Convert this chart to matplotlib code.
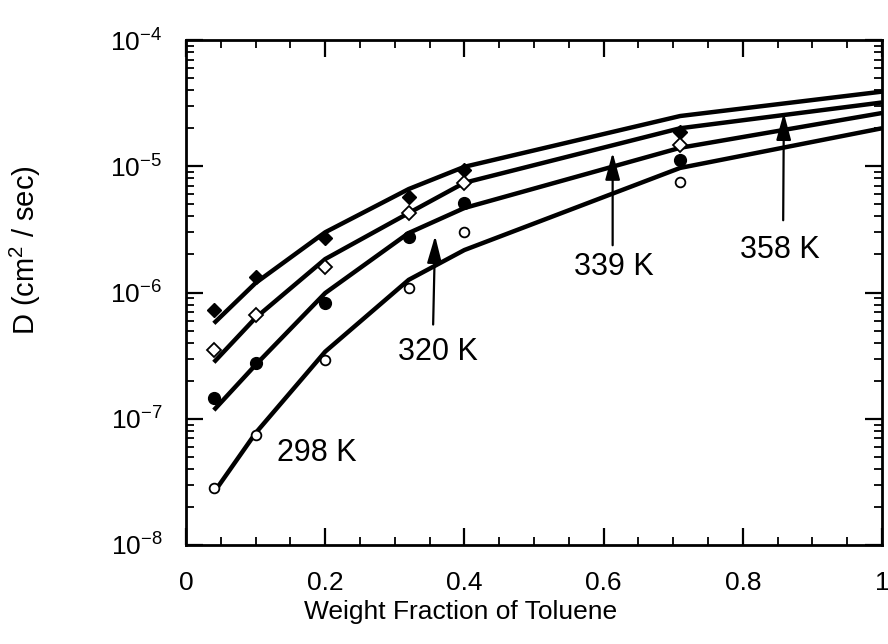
import numpy as np
import matplotlib
matplotlib.use('Agg')
import matplotlib.pyplot as plt
from matplotlib.ticker import MultipleLocator, FuncFormatter, LogLocator

plt.rcParams['font.family'] = ['Liberation Sans', 'DejaVu Sans']
plt.rcParams['mathtext.fontset'] = 'custom'
plt.rcParams['mathtext.rm'] = 'Liberation Sans'
plt.rcParams['mathtext.it'] = 'Liberation Sans:italic'
plt.rcParams['mathtext.bf'] = 'Liberation Sans:bold'

# Measured diffusion coefficients (cm^2/sec) vs weight fraction of toluene
x_points = [0.04, 0.1, 0.2, 0.32, 0.4, 0.71]
d_358 = [7.3e-7, 1.33e-6, 2.7e-6, 5.7e-6, 9.3e-6, 1.87e-5]
d_339 = [3.5e-7, 6.6e-7, 1.59e-6, 4.26e-6, 7.4e-6, 1.47e-5]
d_320 = [1.46e-7, 2.77e-7, 8.3e-7, 2.75e-6, 5.1e-6, 1.12e-5]
d_298 = [2.83e-8, 7.4e-8, 2.92e-7, 1.09e-6, 3.0e-6, 7.5e-6]

# Model curves
x_fit = [0.04, 0.1, 0.2, 0.32, 0.4, 0.71, 1.0]
fit_358 = [5.7e-7, 1.19e-6, 3.0e-6, 6.6e-6, 9.9e-6, 2.5e-5, 3.9e-5]
fit_339 = [2.8e-7, 6.3e-7, 1.84e-6, 4.26e-6, 7.4e-6, 2.0e-5, 3.2e-5]
fit_320 = [1.17e-7, 2.67e-7, 9.9e-7, 2.96e-6, 4.67e-6, 1.4e-5, 2.64e-5]
fit_298 = [2.6e-8, 7.7e-8, 3.4e-7, 1.26e-6, 2.17e-6, 9.7e-6, 2.0e-5]

fig = plt.figure(figsize=(8.88, 6.44), dpi=100)
ax = fig.add_axes([186/888, 1 - 545/644, 696/888, 505/644])

for fit in [fit_358, fit_339, fit_320, fit_298]:
    ax.plot(x_fit, fit, color='black', lw=3.2, solid_capstyle='butt', zorder=2)

ax.plot(x_points, d_358, 'D', ms=7.5, color='black', zorder=3)
ax.plot(x_points, d_339, 'D', ms=7, mfc='white', mec='black', mew=1.3, zorder=3)
ax.plot(x_points, d_320, 'o', ms=8.5, color='black', zorder=3)
ax.plot(x_points, d_298, 'o', ms=7, mfc='white', mec='black', mew=1.3, zorder=3)

ax.set_yscale('log')
ax.set_xlim(0, 1)
ax.set_ylim(1e-8, 1e-4)

ax.xaxis.set_major_locator(MultipleLocator(0.2))
ax.xaxis.set_minor_locator(MultipleLocator(0.05))
ax.xaxis.set_major_formatter(FuncFormatter(lambda v, p: '%g' % v))
ax.yaxis.set_major_locator(LogLocator(base=10, numticks=10))
ax.yaxis.set_minor_locator(LogLocator(base=10, subs=np.arange(2, 10), numticks=20))

ax.tick_params(which='both', direction='in', top=True, right=True, labelsize=19)
ax.tick_params(which='major', length=12, width=1.6)
ax.tick_params(which='minor', length=6, width=1.3)
ax.tick_params(axis='x', which='major', pad=19)
ax.tick_params(axis='y', which='major', pad=17)
for s in ax.spines.values():
    s.set_linewidth(2)

# Temperature labels
arrow = dict(arrowstyle='-|>,head_length=1.1,head_width=0.3', color='black', lw=1.6, mutation_scale=15)
ax.annotate('', xy=(0.358, 2.96e-6), xytext=(0.355, 5.3e-7), arrowprops=arrow)
ax.annotate('', xy=(0.613, 1.35e-5), xytext=(0.613, 2.25e-6), arrowprops=arrow)
ax.annotate('', xy=(0.859, 2.79e-5), xytext=(0.858, 3.55e-6), arrowprops=arrow)
ax.text(0.362, 3.38e-7, '320 K', fontsize=22, ha='center', va='center')
ax.text(0.615, 1.59e-6, '339 K', fontsize=22, ha='center', va='center')
ax.text(0.853, 2.17e-6, '358 K', fontsize=22, ha='center', va='center')
ax.text(0.188, 5.36e-8, '298 K', fontsize=22, ha='center', va='center')

fig.text(461/888, 1 - 612/644, 'Weight Fraction of Toluene', fontsize=19, ha='center', va='center')
fig.text(25/888, 1 - 250/644, 'D (cm$^2$ / sec)', fontsize=21, rotation=90, ha='center', va='center')

fig.savefig('out.png', dpi=100)
